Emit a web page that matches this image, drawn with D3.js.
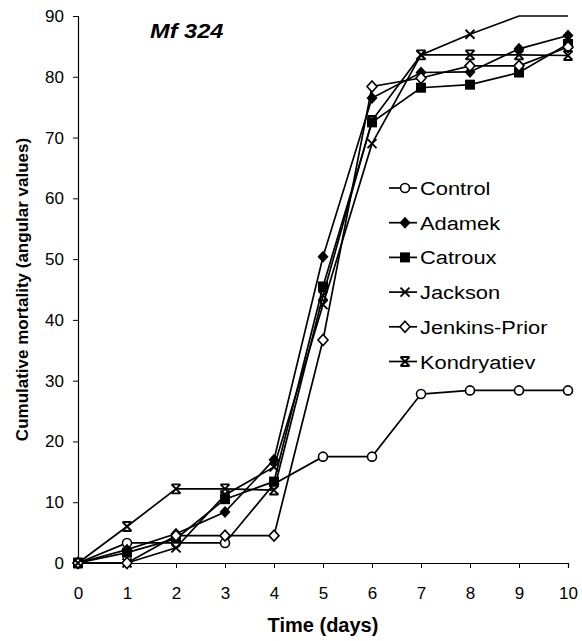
<!DOCTYPE html>
<html>
<head>
<meta charset="utf-8">
<script src="https://cdnjs.cloudflare.com/ajax/libs/d3/7.8.5/d3.min.js"></script>
<style>
  body { margin: 0; background: #fff; }
  text { font-family: "Liberation Sans", Arial, sans-serif; }
</style>
</head>
<body>
<div id="chart"></div>
<script>
// Data (angular values)
var days = [0, 1, 2, 3, 4, 5, 6, 7, 8, 9, 10];
var control = [0, 3.3, 3.3, 3.3, 13.0, 17.5, 17.5, 27.8, 28.4, 28.4, 28.4];
var adamek = [0, 2.2, 4.8, 8.4, 17.0, 50.4, 76.5, 80.7, 80.8, 84.6, 86.8];
var catroux = [0, 1.7, 4.0, 10.5, 13.4, 45.5, 72.5, 78.2, 78.7, 80.7, 85.4];
var jackson = [0, 0, 2.5, 11.2, 15.8, 42.5, 69.0, 83.6, 87.0, 90, 90];
var jenkinsPrior = [0, 0, 4.5, 4.5, 4.5, 36.7, 78.4, 79.8, 81.8, 81.8, 84.9];
var kondryatiev = [0, 6.0, 12.2, 12.2, 12.0, 44.0, 72.8, 83.6, 83.6, 83.6, 83.5];
var seriesNames = ["Control", "Adamek", "Catroux", "Jackson", "Jenkins-Prior", "Kondryatiev"];
var markerTypes = ["circle", "diamond", "square", "cross", "openDiamond", "star"];
var yTicks = [0, 10, 20, 30, 40, 50, 60, 70, 80, 90];

var series = [control, adamek, catroux, jackson, jenkinsPrior, kondryatiev];

// Step 1 - chart area
var svgWidth = 582;
var svgHeight = 641;
var margin = { top: 16, right: 14, bottom: 78, left: 78 };
var chartWidth = svgWidth - margin.left - margin.right;
var chartHeight = svgHeight - margin.top - margin.bottom;

var svg = d3.select("#chart")
  .append("svg")
  .attr("width", svgWidth)
  .attr("height", svgHeight);

var chartGroup = svg.append("g")
  .attr("transform", `translate(${margin.left}, ${margin.top})`);

// Step 2 - scales
var xScale = d3.scaleLinear().domain([0, 10]).range([0, chartWidth]);
var yScale = d3.scaleLinear().domain([0, 90]).range([chartHeight, 0]);

// Step 3 - axes
var xAxis = d3.axisBottom(xScale).tickValues(days).tickSize(5).tickPadding(19);
var yAxis = d3.axisLeft(yScale).tickValues(yTicks).tickSize(5).tickPadding(9);

var xg = chartGroup.append("g")
  .attr("transform", `translate(0, ${chartHeight})`)
  .call(xAxis);
var yg = chartGroup.append("g").call(yAxis);

[xg, yg].forEach(function(g) {
  g.select(".domain").attr("stroke", "#000").attr("stroke-width", 1.2);
  g.selectAll(".tick line").attr("stroke", "#000");
  g.selectAll(".tick text")
    .attr("font-size", "17px")
    .attr("fill", "#000")
    .attr("font-family", "Liberation Sans, Arial, sans-serif");
});

// marker drawing
function drawMarker(sel, type) {
  var s = 4.5;
  if (type === "circle") {
    sel.append("circle").attr("r", 4.5)
      .attr("fill", "#fff").attr("stroke", "#000").attr("stroke-width", 1.6);
  } else if (type === "diamond") {
    sel.append("path").attr("d", "M0,-6L5.5,0L0,6L-5.5,0Z").attr("fill", "#000");
  } else if (type === "openDiamond") {
    sel.append("path").attr("d", "M0,-5.5L5,0L0,5.5L-5,0Z")
      .attr("fill", "#fff").attr("stroke", "#000").attr("stroke-width", 1.6);
  } else if (type === "square") {
    sel.append("rect").attr("x", -5).attr("y", -5).attr("width", 10).attr("height", 10)
      .attr("fill", "#000");
  } else if (type === "cross") {
    sel.append("path").attr("d", `M${-s},${-s}L${s},${s}M${-s},${s}L${s},${-s}`)
      .attr("stroke", "#000").attr("stroke-width", 1.9).attr("fill", "none");
  } else if (type === "star") {
    sel.append("path").attr("d", `M${-s},${-s}L${s},${s}M${-s},${s}L${s},${-s}M${-s},${-s}L${s},${-s}M${-s},${s}L${s},${s}`)
      .attr("stroke", "#000").attr("stroke-width", 1.9).attr("fill", "none");
  }
}

// Step 4 - lines and markers
var line = d3.line()
  .x(function(d, i) { return xScale(days[i]); })
  .y(function(d) { return yScale(d); });

series.forEach(function(vals) {
  chartGroup.append("path")
    .datum(vals)
    .attr("d", line)
    .attr("fill", "none")
    .attr("stroke", "#000")
    .attr("stroke-width", 1.7);
});

series.forEach(function(vals, k) {
  vals.forEach(function(v, i) {
    if (v >= 90) return; // off the top of the plot
    var g = chartGroup.append("g")
      .attr("transform", `translate(${xScale(days[i])}, ${yScale(v)})`);
    drawMarker(g, markerTypes[k]);
  });
});

// Step 5 - legend
var legend = svg.append("g").attr("transform", "translate(389, 188)");
seriesNames.forEach(function(name, k) {
  var row = legend.append("g").attr("transform", `translate(0, ${k * 34.7})`);
  row.append("line").attr("x1", 0).attr("x2", 28).attr("y1", 0).attr("y2", 0)
    .attr("stroke", "#000").attr("stroke-width", 1.7);
  var m = row.append("g").attr("transform", "translate(16, 0)");
  drawMarker(m, markerTypes[k]);
  row.append("text")
    .attr("transform", "translate(31, 7) scale(1.15, 1)")
    .attr("font-size", "19px")
    .attr("fill", "#000")
    .text(name);
});

// Step 6 - titles
svg.append("text")
  .attr("transform", "translate(150, 38) scale(1.18, 1)")
  .attr("font-size", "20px")
  .attr("font-weight", "bold")
  .attr("font-style", "italic")
  .text("Mf 324");

svg.append("text")
  .attr("x", margin.left + chartWidth / 2)
  .attr("y", 632)
  .attr("text-anchor", "middle")
  .attr("font-size", "20px")
  .attr("font-weight", "bold")
  .text("Time (days)");

svg.append("text")
  .attr("transform", "rotate(-90)")
  .attr("x", -(margin.top + chartHeight / 2))
  .attr("y", 28)
  .attr("text-anchor", "middle")
  .attr("font-size", "17px")
  .attr("font-weight", "bold")
  .text("Cumulative mortality (angular values)");
</script>
</body>
</html>
